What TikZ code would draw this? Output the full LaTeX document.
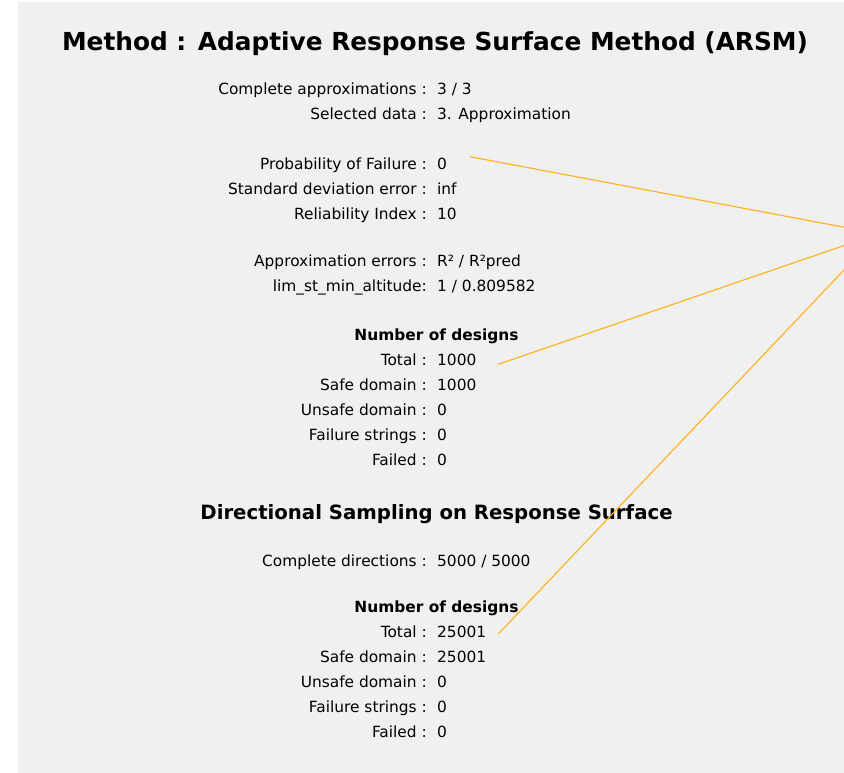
\documentclass[tikz,border=0pt]{standalone}
\usepackage{fontspec}
\setmainfont{DejaVu Sans}
\newcommand\txtbody{\fontsize{15.4}{18}\selectfont}
\newcommand\txttitle{\fontsize{24.8}{28}\selectfont\bfseries}
\newcommand\txtsub{\fontsize{19.7}{23}\selectfont\bfseries}
\definecolor{panelgray}{RGB}{240,240,240}
\definecolor{leadorange}{RGB}{255,180,40}
\begin{document}
\begin{tikzpicture}[x=1pt,y=-1pt,
  lbl/.style={anchor=base east,inner sep=0pt,font=\txtbody},
  val/.style={anchor=base west,inner sep=0pt,font=\txtbody},
  head/.style={anchor=base,inner sep=0pt,font=\txtbody\bfseries},
  title/.style={anchor=base,inner sep=0pt,font=\txttitle},
  subtitle/.style={anchor=base,inner sep=0pt,font=\txtsub},
  leader/.style={draw=leadorange,line width=1.2pt}]
\useasboundingbox (0,0) rectangle (844,773);
\clip (0,0) rectangle (844,773);
\fill[white] (0,0) rectangle (844,773);
\fill[panelgray] (18,2) rectangle (844,773);

% headings
\node[title] (ttl) at (435,51) {Method : Adaptive Response Surface Method (ARSM)};
\node[subtitle] (sub) at (436.5,519.3) {Directional Sampling on Response Surface};

% approximation summary
\node[lbl] (l1) at (427,95) {Complete approximations :};
\node[val] (v1) at (437,95) {3 / 3};
\node[lbl] (l2) at (427,119.5) {Selected data :};
\node[val] (v2) at (437,119.5) {3. Approximation};
\node[lbl] (l3) at (427,169.3) {Probability of Failure :};
\node[val] (v3) at (437,169.3) {0};
\node[lbl] (l4) at (427,194) {Standard deviation error :};
\node[val] (v4) at (437,194) {inf};
\node[lbl] (l5) at (427,219) {Reliability Index :};
\node[val] (v5) at (437,219) {10};
\node[lbl] (l6) at (427,266.5) {Approximation errors :};
\node[val] (v6) at (437,266.5) {R² / R²pred};
\node[lbl] (l7) at (427,291) {lim\_st\_min\_altitude:};
\node[val] (v7) at (437,291) {1 / 0.809582};

% designs of the approximation
\node[head] (h1) at (436.5,340) {Number of designs};
\node[lbl] (a1) at (427,365) {Total :};
\node[val] (b1) at (437,365) {1000};
\node[lbl] (a2) at (427,390) {Safe domain :};
\node[val] (b2) at (437,390) {1000};
\node[lbl] (a3) at (427,415) {Unsafe domain :};
\node[val] (b3) at (437,415) {0};
\node[lbl] (a4) at (427,440) {Failure strings :};
\node[val] (b4) at (437,440) {0};
\node[lbl] (a5) at (427,465) {Failed :};
\node[val] (b5) at (437,465) {0};

% directional sampling
\node[lbl] (d0) at (427,566) {Complete directions :};
\node[val] (e0) at (437,566) {5000 / 5000};
\node[head] (h2) at (436.5,612.7) {Number of designs};
\node[lbl] (d1) at (427,637.3) {Total :};
\node[val] (e1) at (437,637.3) {25001};
\node[lbl] (d2) at (427,662.3) {Safe domain :};
\node[val] (e2) at (437,662.3) {25001};
\node[lbl] (d3) at (427,687.3) {Unsafe domain :};
\node[val] (e3) at (437,687.3) {0};
\node[lbl] (d4) at (427,712.3) {Failure strings :};
\node[val] (e4) at (437,712.3) {0};
\node[lbl] (d5) at (427,737.3) {Failed :};
\node[val] (e5) at (437,737.3) {0};

% leader lines meeting at a point past the right edge
\coordinate (hub) at (878.5,233.7);
\coordinate (s1) at (470,156.7);
\coordinate (s2) at (498.3,364.3);
\coordinate (s3) at (498.3,634);
\draw[leader] (s1) -- (hub);
\draw[leader] (s2) -- (hub);
\draw[leader] (s3) -- (hub);
\end{tikzpicture}
\end{document}
